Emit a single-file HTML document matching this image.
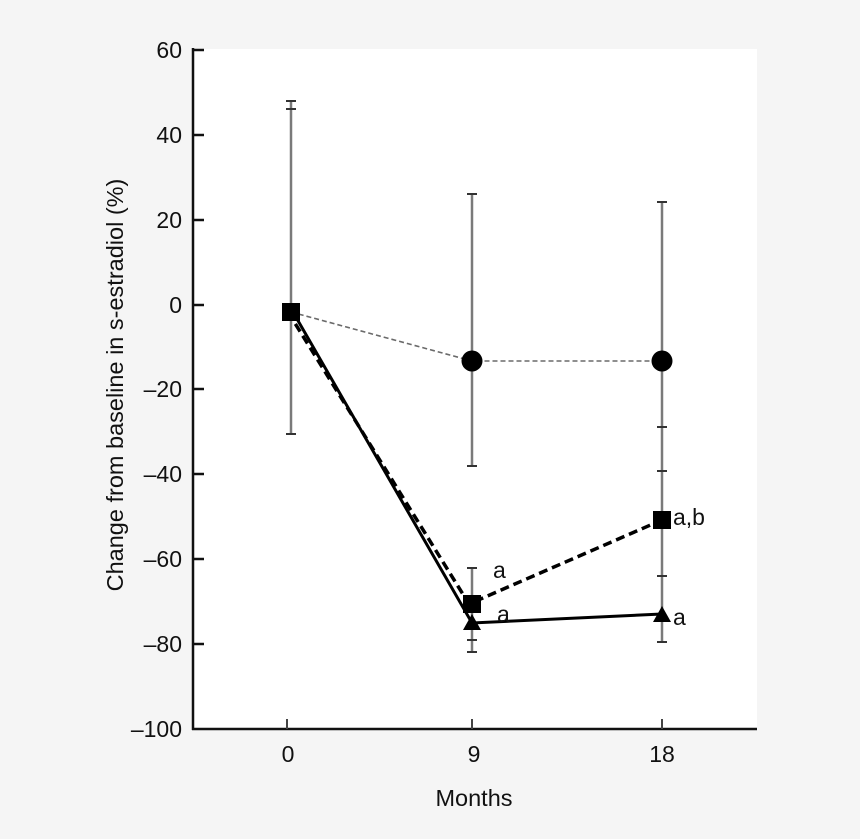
<!DOCTYPE html>
<html>
<head>
<meta charset="utf-8">
<style>
  html,body{margin:0;padding:0;background:#f5f5f5;}
  svg{display:block;}
  text{font-family:"Liberation Sans", Arial, sans-serif;fill:#111;}
</style>
</head>
<body>
<svg width="860" height="839" viewBox="0 0 860 839" xmlns="http://www.w3.org/2000/svg">
  <rect x="0" y="0" width="860" height="839" fill="#f5f5f5"/>
  <rect x="193" y="49" width="564" height="680" fill="#ffffff"/>

  <!-- error bars -->
  <g stroke="#7a7a7a" stroke-width="2.5" fill="none">
    <line x1="291" y1="101" x2="291" y2="434"/>
    <line x1="472" y1="194" x2="472" y2="466"/>
    <line x1="472" y1="568" x2="472" y2="652"/>
    <line x1="662" y1="202" x2="662" y2="642"/>
  </g>
  <g stroke="#333" stroke-width="2" fill="none">
    <line x1="286" y1="101" x2="296" y2="101"/>
    <line x1="286" y1="109" x2="296" y2="109"/>
    <line x1="286" y1="434" x2="296" y2="434"/>
    <line x1="467" y1="194" x2="477" y2="194"/>
    <line x1="467" y1="466" x2="477" y2="466"/>
    <line x1="467" y1="568" x2="477" y2="568"/>
    <line x1="467" y1="640" x2="477" y2="640"/>
    <line x1="467" y1="652" x2="477" y2="652"/>
    <line x1="657" y1="202" x2="667" y2="202"/>
    <line x1="657" y1="427" x2="667" y2="427"/>
    <line x1="657" y1="471" x2="667" y2="471"/>
    <line x1="657" y1="576" x2="667" y2="576"/>
    <line x1="657" y1="642" x2="667" y2="642"/>
  </g>

  <!-- series lines -->
  <polyline points="291,312 472,361 662,361" fill="none" stroke="#6a6a6a" stroke-width="1.6" stroke-dasharray="5,3"/>
  <polyline points="288,312 469,604 662,520" fill="none" stroke="#000" stroke-width="3.5" stroke-dasharray="9,5"/>
  <polyline points="293,312 472,623 662,614" fill="none" stroke="#000" stroke-width="3"/>

  <!-- markers -->
  <circle cx="472" cy="361" r="10.5" fill="#000"/>
  <circle cx="662" cy="361" r="10.5" fill="#000"/>
  <rect x="282" y="303" width="18" height="18" fill="#000"/>
  <rect x="463" y="595" width="18" height="18" fill="#000"/>
  <rect x="653" y="511" width="18" height="18" fill="#000"/>
  <polygon points="472,614 463,630 481,630" fill="#000"/>
  <polygon points="662,606 653,622 671,622" fill="#000"/>

  <!-- annotations -->
  <text x="493" y="578" font-size="23">a</text>
  <text x="497" y="622" font-size="23">a</text>
  <text x="673" y="525" font-size="23">a,b</text>
  <text x="673" y="625" font-size="23">a</text>

  <!-- axes -->
  <g stroke="#111" stroke-width="2.5" fill="none">
    <line x1="193" y1="48" x2="193" y2="730"/>
    <line x1="192" y1="729" x2="757" y2="729"/>
    <line x1="193" y1="50" x2="204" y2="50"/>
    <line x1="193" y1="135" x2="204" y2="135"/>
    <line x1="193" y1="220" x2="204" y2="220"/>
    <line x1="193" y1="305" x2="204" y2="305"/>
    <line x1="193" y1="389" x2="204" y2="389"/>
    <line x1="193" y1="474" x2="204" y2="474"/>
    <line x1="193" y1="559" x2="204" y2="559"/>
    <line x1="193" y1="644" x2="204" y2="644"/>
  </g>
  <g stroke="#444" stroke-width="2" fill="none">
    <line x1="287" y1="719" x2="287" y2="729"/>
    <line x1="472" y1="719" x2="472" y2="729"/>
    <line x1="662" y1="719" x2="662" y2="729"/>
  </g>

  <!-- y tick labels -->
  <g font-size="23" text-anchor="end">
    <text x="182" y="58">60</text>
    <text x="182" y="143">40</text>
    <text x="182" y="228">20</text>
    <text x="182" y="313">0</text>
    <text x="182" y="397">–20</text>
    <text x="182" y="482">–40</text>
    <text x="182" y="567">–60</text>
    <text x="182" y="652">–80</text>
    <text x="182" y="737">–100</text>
  </g>

  <!-- x tick labels -->
  <g font-size="23" text-anchor="middle">
    <text x="288" y="762">0</text>
    <text x="474" y="762">9</text>
    <text x="662" y="762">18</text>
  </g>

  <text x="474" y="806" font-size="23.5" text-anchor="middle">Months</text>
  <text transform="translate(123,385) rotate(-90)" font-size="23.5" text-anchor="middle">Change from baseline in s-estradiol (%)</text>
</svg>
</body>
</html>
